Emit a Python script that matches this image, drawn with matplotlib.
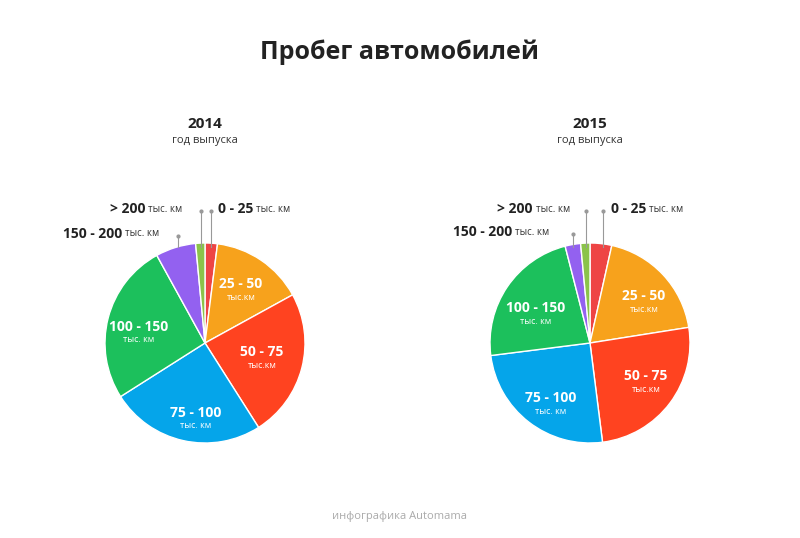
import matplotlib
matplotlib.use("Agg")
import matplotlib.pyplot as plt

W, H = 800, 538
FONT = "Open Sans"

categories = ["0 - 25", "25 - 50", "50 - 75", "75 - 100", "100 - 150", "150 - 200", "> 200"]
share_2014 = [2.0, 15.0, 24.0, 25.0, 26.0, 6.5, 1.5]
share_2015 = [3.5, 19.0, 25.5, 25.0, 23.0, 2.5, 1.5]
colors = ["#ee4444", "#f7a21c", "#ff4320", "#05a5ea", "#1cc05c", "#9361f0", "#8bc34a"]


def px(x, y):
    return x / W, 1 - y / H


fig = plt.figure(figsize=(8, 5.38), dpi=100)
fig.text(*px(400, 52), "Пробег автомобилей", ha="center", va="center",
         fontsize=18, fontweight="bold", family=FONT, color="#222222")
fig.text(*px(400, 516), "инфографика Automama", ha="center", va="center",
         fontsize=8, family=FONT, color="#aaaaaa")

outer_texts = []


def draw(cx, cy, vals, year, inner, outer):
    r = 100
    ax = fig.add_axes([(cx - r) / W, 1 - (cy + r) / H, 2 * r / W, 2 * r / H])
    ax.pie(vals, colors=colors, startangle=90, counterclock=False,
           wedgeprops=dict(edgecolor="white", linewidth=1))
    ax.set_xlim(-1, 1)
    ax.set_ylim(-1, 1)
    ax.set_aspect("auto")
    fig.text(*px(cx, 124), year, ha="center", va="center", fontsize=11,
             fontweight="bold", family=FONT, color="#222222")
    fig.text(*px(cx, 140), "год выпуска", ha="center", va="center", fontsize=8,
             family=FONT, color="#333333")
    for idx, (x, y) in inner.items():
        fig.text(*px(x, y), categories[idx], ha="center", va="center", fontsize=10,
                 fontweight="bold", family=FONT, color="white")
        sub = "тыс.км" if idx in (1, 2) else "тыс. км"
        fig.text(*px(x, y + 13), sub, ha="center", va="center", fontsize=6.5,
                 family=FONT, color="white")
    for idx, (x, y, lx) in outer.items():
        t = fig.text(*px(x, y), categories[idx], ha="left", va="center",
                     fontsize=10, fontweight="bold", family=FONT, color="#222222")
        outer_texts.append((t, y))
        fig.add_artist(plt.Line2D([lx / W, lx / W], [1 - (y + 4) / H, 1 - 247 / H],
                                  color="#999999", lw=0.8, transform=fig.transFigure))
        fig.add_artist(plt.Line2D([lx / W], [1 - (y + 2) / H], marker="o", ms=2,
                                  color="#999999", transform=fig.transFigure))
    return ax


draw(205, 343, share_2014, "2014",
     {1: (241, 284), 2: (262, 352), 3: (196, 413), 4: (139, 327)},
     {0: (218, 209, 211), 5: (63, 234, 178), 6: (110, 209, 201)})
draw(590, 343, share_2015, "2015",
     {1: (644, 296), 2: (646, 376), 3: (551, 398), 4: (536, 308)},
     {0: (611, 209, 603), 5: (453, 232, 573), 6: (497, 209, 586)})

# unit suffix after each outer label
renderer = fig.canvas.get_renderer()
for t, y in outer_texts:
    x1 = t.get_window_extent(renderer).x1
    fig.text(x1 / W + 3 / W, 1 - y / H, "тыс. км", ha="left", va="center",
             fontsize=7, family=FONT, color="#333333")

fig.savefig("out.png", dpi=100)
